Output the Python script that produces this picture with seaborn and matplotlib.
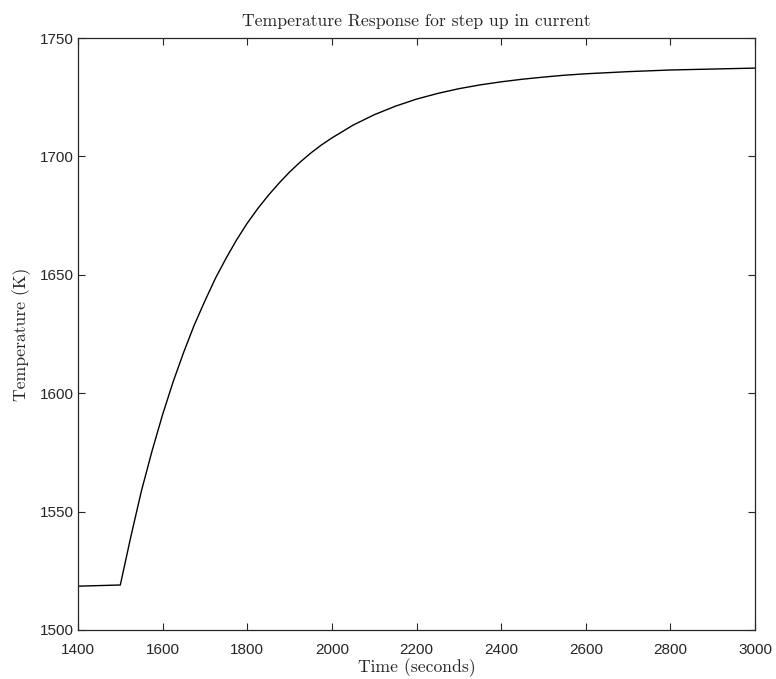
import matplotlib
matplotlib.use("Agg")
import matplotlib.pyplot as plt
import seaborn as sns
import pandas as pd

time_s = [1400, 1500, 1525, 1550, 1575, 1600, 1625, 1650, 1675, 1700, 1725, 1750,
          1775, 1800, 1825, 1850, 1875, 1900, 1925, 1950, 1975, 2000, 2050, 2100,
          2150, 2200, 2250, 2300, 2350, 2400, 2450, 2500, 2550, 2600, 2700, 2800,
          2900, 3000]
temp_k = [1518.5, 1519.0, 1539.5, 1558.8, 1575.6, 1591.0, 1604.9, 1617.4, 1628.9,
          1639.0, 1648.6, 1657.0, 1664.8, 1671.8, 1678.0, 1683.6, 1688.7, 1693.4,
          1697.6, 1701.4, 1704.8, 1707.8, 1713.2, 1717.6, 1721.2, 1724.2, 1726.6,
          1728.6, 1730.2, 1731.5, 1732.6, 1733.5, 1734.3, 1734.9, 1735.8, 1736.5,
          1736.9, 1737.3]

x_ticks = [1400, 1600, 1800, 2000, 2200, 2400, 2600, 2800, 3000]
y_ticks = [1500, 1550, 1600, 1650, 1700, 1750]

title_text = "Temperature Response for step up in current"
xlabel_text = "Time (seconds)"
ylabel_text = "Temperature (K)"

sns.set_style("white")
plt.rcParams['font.family'] = ['Liberation Sans', 'DejaVu Sans']

df = pd.DataFrame({"time": time_s, "temp": temp_k})

fig = plt.figure(figsize=(7.76, 6.79), dpi=100)
ax = fig.add_axes([0.1005, 0.0722, 0.8725, 0.8718])
sns.lineplot(data=df, x="time", y="temp", ax=ax, color="black", linewidth=1.0)

ax.set_xlim(1400, 3000)
ax.set_ylim(1500, 1750)
ax.set_xticks(x_ticks)
ax.set_yticks(y_ticks)

spine_col = "#262626"
for s in ax.spines.values():
    s.set_visible(True)
    s.set_color(spine_col)
    s.set_linewidth(0.9)
ax.tick_params(direction="in", length=5, width=0.8, color=spine_col,
               top=True, right=True, bottom=True, left=True,
               labelsize=11, labelcolor="#262626")
ax.tick_params(axis="x", pad=9.5)
ax.tick_params(axis="y", pad=3)

serif = ['cmr10', 'DejaVu Serif']
ax.set_title(title_text, fontsize=12.7, family=serif, color="#262626", pad=9)
ax.set_xlabel(xlabel_text, fontsize=12.7, family=serif, color="#262626", labelpad=0.5)
ax.set_ylabel(ylabel_text, fontsize=12.7, family=serif, color="#262626", labelpad=6)

fig.savefig("out.png", dpi=100)
